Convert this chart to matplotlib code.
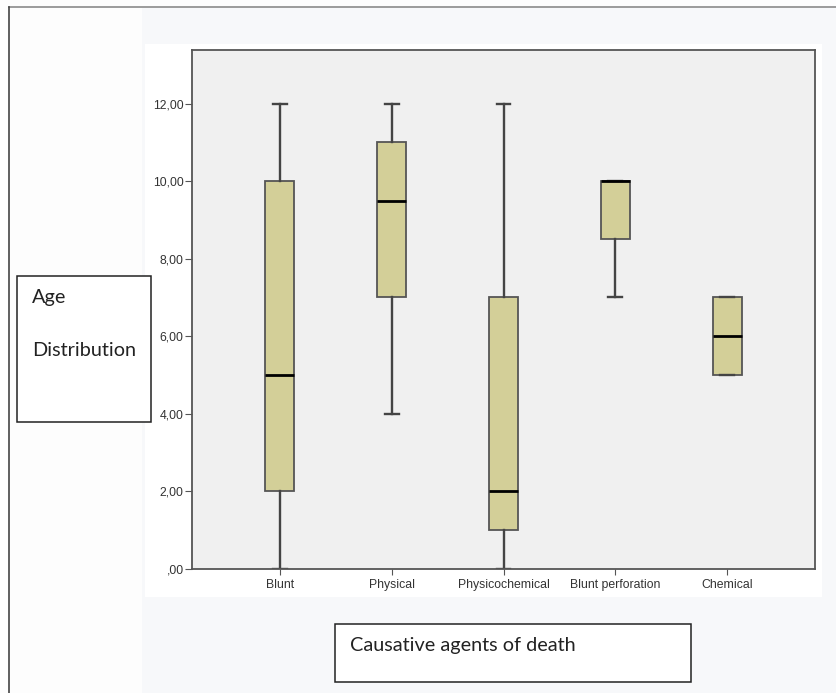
import matplotlib
matplotlib.use('Agg')
import matplotlib.pyplot as plt
from matplotlib.patches import Rectangle

# data
categories = ['Blunt', 'Physical', 'Physicochemical', 'Blunt perforation', 'Chemical']
whis_low = [0, 4, 0, 7, 5]
q1 = [2, 7, 1, 8.5, 5]
medians = [5, 9.5, 2, 10, 6]
q3 = [10, 11, 7, 10, 7]
whis_high = [12, 12, 12, 10, 7]
y_ticks = [0, 2, 4, 6, 8, 10, 12]
y_labels = [',00', '2,00', '4,00', '6,00', '8,00', '10,00', '12,00']

W, H = 837, 693
fig = plt.figure(figsize=(W / 100, H / 100), dpi=100)
fig.patch.set_facecolor('#fdfdfd')


def px(x0, y0, x1, y1):
    # pixel box (top-left origin) -> figure fraction rect
    return [x0 / W, 1 - y1 / H, (x1 - x0) / W, (y1 - y0) / H]


def rect(x0, y0, x1, y1, **kw):
    l, b, w, h = px(x0, y0, x1, y1)
    fig.patches.append(Rectangle((l, b), w, h, transform=fig.transFigure, **kw))


# background panels
rect(142, 8, 837, 693, facecolor='#f7f8fa', edgecolor='none', zorder=-2)
rect(145, 44, 822, 597, facecolor='white', edgecolor='none', zorder=-1)
# outer frame lines (top and left)
fig.add_artist(plt.Line2D([9 / W, 1], [1 - 7 / H, 1 - 7 / H], transform=fig.transFigure, color='#8a8a8a', lw=1.2))
fig.add_artist(plt.Line2D([9 / W, 9 / W], [1 - 7 / H, 0], transform=fig.transFigure, color='#444444', lw=1.2))

ax = fig.add_axes(px(192, 50, 815, 569))
ax.set_facecolor('#f0f0f0')

stats = []
for i, name in enumerate(categories):
    stats.append({'label': name, 'whislo': whis_low[i], 'q1': q1[i], 'med': medians[i],
                  'q3': q3[i], 'whishi': whis_high[i], 'fliers': []})

pos = list(range(1, len(categories) + 1))
ax.bxp(stats, positions=pos, widths=0.26, patch_artist=True, showfliers=False,
       capwidths=0.125,
       boxprops=dict(facecolor='#d3cf98', edgecolor='#555555', linewidth=1.3),
       whiskerprops=dict(color='#444444', linewidth=1.7),
       capprops=dict(color='#444444', linewidth=1.7),
       medianprops=dict(color='black', linewidth=2))

ax.set_xlim(0.214, 5.786)
ax.set_ylim(0, 13.38)
ax.set_xticks(pos)
ax.set_xticklabels(categories, fontsize=8.8, family='Liberation Sans', color='#333333')
ax.set_yticks(y_ticks)
ax.set_yticklabels(y_labels, fontsize=8.8, family='Liberation Sans', color='#333333')
ax.tick_params(axis='x', length=4, color='#555555', pad=3)
ax.tick_params(axis='y', length=5, color='#555555', pad=1)
for s in ax.spines.values():
    s.set_color('#555555')
    s.set_linewidth(1.3)

# label boxes
rect(17, 276, 151, 422, facecolor='white', edgecolor='#222222', lw=1.1, zorder=3)
fig.text(32 / W, 1 - 298 / H, 'Age', fontsize=14.3, family='Lato', va='center', color='#222222')
fig.text(32 / W, 1 - 350 / H, 'Distribution', fontsize=14.3, family='Lato', va='center', color='#222222')

rect(335, 624, 691, 682, facecolor='white', edgecolor='#222222', lw=1.1, zorder=3)
fig.text(350 / W, 1 - 646 / H, 'Causative agents of death', fontsize=14.3, family='Lato', va='center', color='#222222')

plt.savefig('out.png', dpi=100, facecolor=fig.get_facecolor())
